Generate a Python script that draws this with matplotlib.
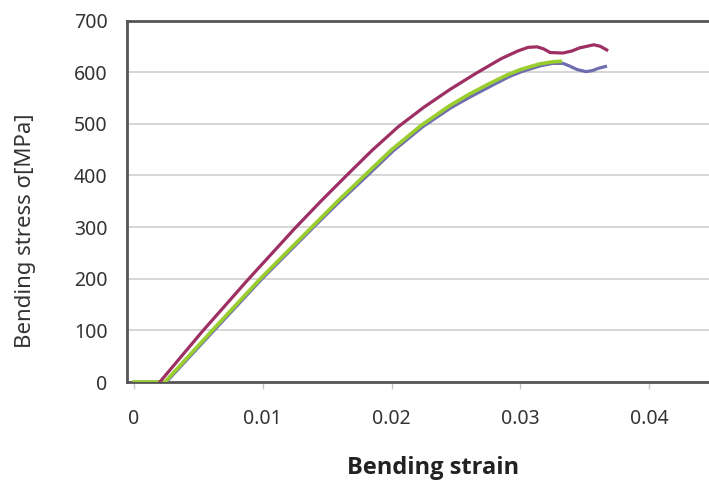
import matplotlib
matplotlib.use("Agg")
import matplotlib.pyplot as plt

# Series data (strain, stress MPa)
mag_x = [0.0020, 0.0053, 0.0088, 0.0125, 0.0145, 0.0165, 0.0185, 0.0205, 0.0225, 0.0245,
         0.0265, 0.0285, 0.0298, 0.0306, 0.0313, 0.0318, 0.0323, 0.0333, 0.0340, 0.0346,
         0.0357, 0.0362, 0.0367]
mag_y = [0, 98, 197, 298, 350, 400, 449, 494, 532, 566,
         597, 626, 641, 648, 649, 645, 638, 637, 641, 647,
         653, 650, 643]

blue_x = [0.0, 0.0025, 0.0061, 0.0099, 0.0139, 0.0159, 0.0180, 0.0201, 0.0224, 0.0246,
          0.0261, 0.0277, 0.0291, 0.0301, 0.0315, 0.0325, 0.0333, 0.0338, 0.0344, 0.0351,
          0.0356, 0.0360, 0.0366]
blue_y = [0, 0, 97, 199, 299, 348, 397, 447, 494, 531,
          552, 573, 591, 601, 612, 617, 617, 612, 605, 601,
          603, 607, 611]

green_x = [0.0, 0.0024, 0.0060, 0.0098, 0.0138, 0.0158, 0.0179, 0.0200, 0.0223, 0.0245,
           0.0260, 0.0276, 0.0290, 0.0300, 0.0315, 0.0325, 0.0331]
green_y = [0, 0, 98, 200, 300, 350, 400, 450, 497, 535,
           557, 578, 595, 605, 616, 620, 621]

x_ticks = [0, 0.01, 0.02, 0.03, 0.04]
x_ticklabels = ["0", "0.01", "0.02", "0.03", "0.04"]
y_ticks = [0, 100, 200, 300, 400, 500, 600, 700]

W, H = 709, 483
fig = plt.figure(figsize=(W / 100, H / 100), dpi=100)
fig.patch.set_facecolor("white")
ax = fig.add_axes([127 / W, 1 - 382 / H, 1 - 127 / W, (382 - 20.5) / H])

ax.plot(blue_x, blue_y, color="#6E6EAE", lw=2.3, zorder=3)
ax.plot(green_x, green_y, color="#9ACD2E", lw=2.6, zorder=4)
ax.plot(mag_x, mag_y, color="#9E2F63", lw=2.3, zorder=5)

ax.set_xlim(-0.00055, 0.04464)
ax.set_ylim(0, 700)
ax.set_xticks(x_ticks)
ax.set_xticklabels(x_ticklabels)
ax.set_yticks(y_ticks)

ax.yaxis.grid(True, color="#D0D0D0", lw=1.2, zorder=0)
ax.set_axisbelow(True)

for s in ["left", "bottom", "top"]:
    ax.spines[s].set_color("#555555")
    ax.spines[s].set_linewidth(2.0)
ax.spines["right"].set_visible(False)

ax.tick_params(axis="x", length=5, width=1, color="#C8C8C8", pad=14.5,
               labelsize=14, labelcolor="#333333")
ax.tick_params(axis="y", length=0, pad=14, labelsize=14, labelcolor="#333333")
for lab in ax.get_xticklabels() + ax.get_yticklabels():
    lab.set_family("Noto Sans")

fig.text(26 / W, 1 - 230.5 / H, "Bending stress σ[MPa]", rotation=90,
         ha="center", va="center", fontsize=16, color="#333333", family="Noto Sans")
fig.text(433.5 / W, 1 - 474.5 / H, "Bending strain", ha="center", va="baseline",
         fontsize=17, fontweight="bold", color="#222222", family="Open Sans")

fig.savefig("out.png", dpi=100, facecolor="white")
